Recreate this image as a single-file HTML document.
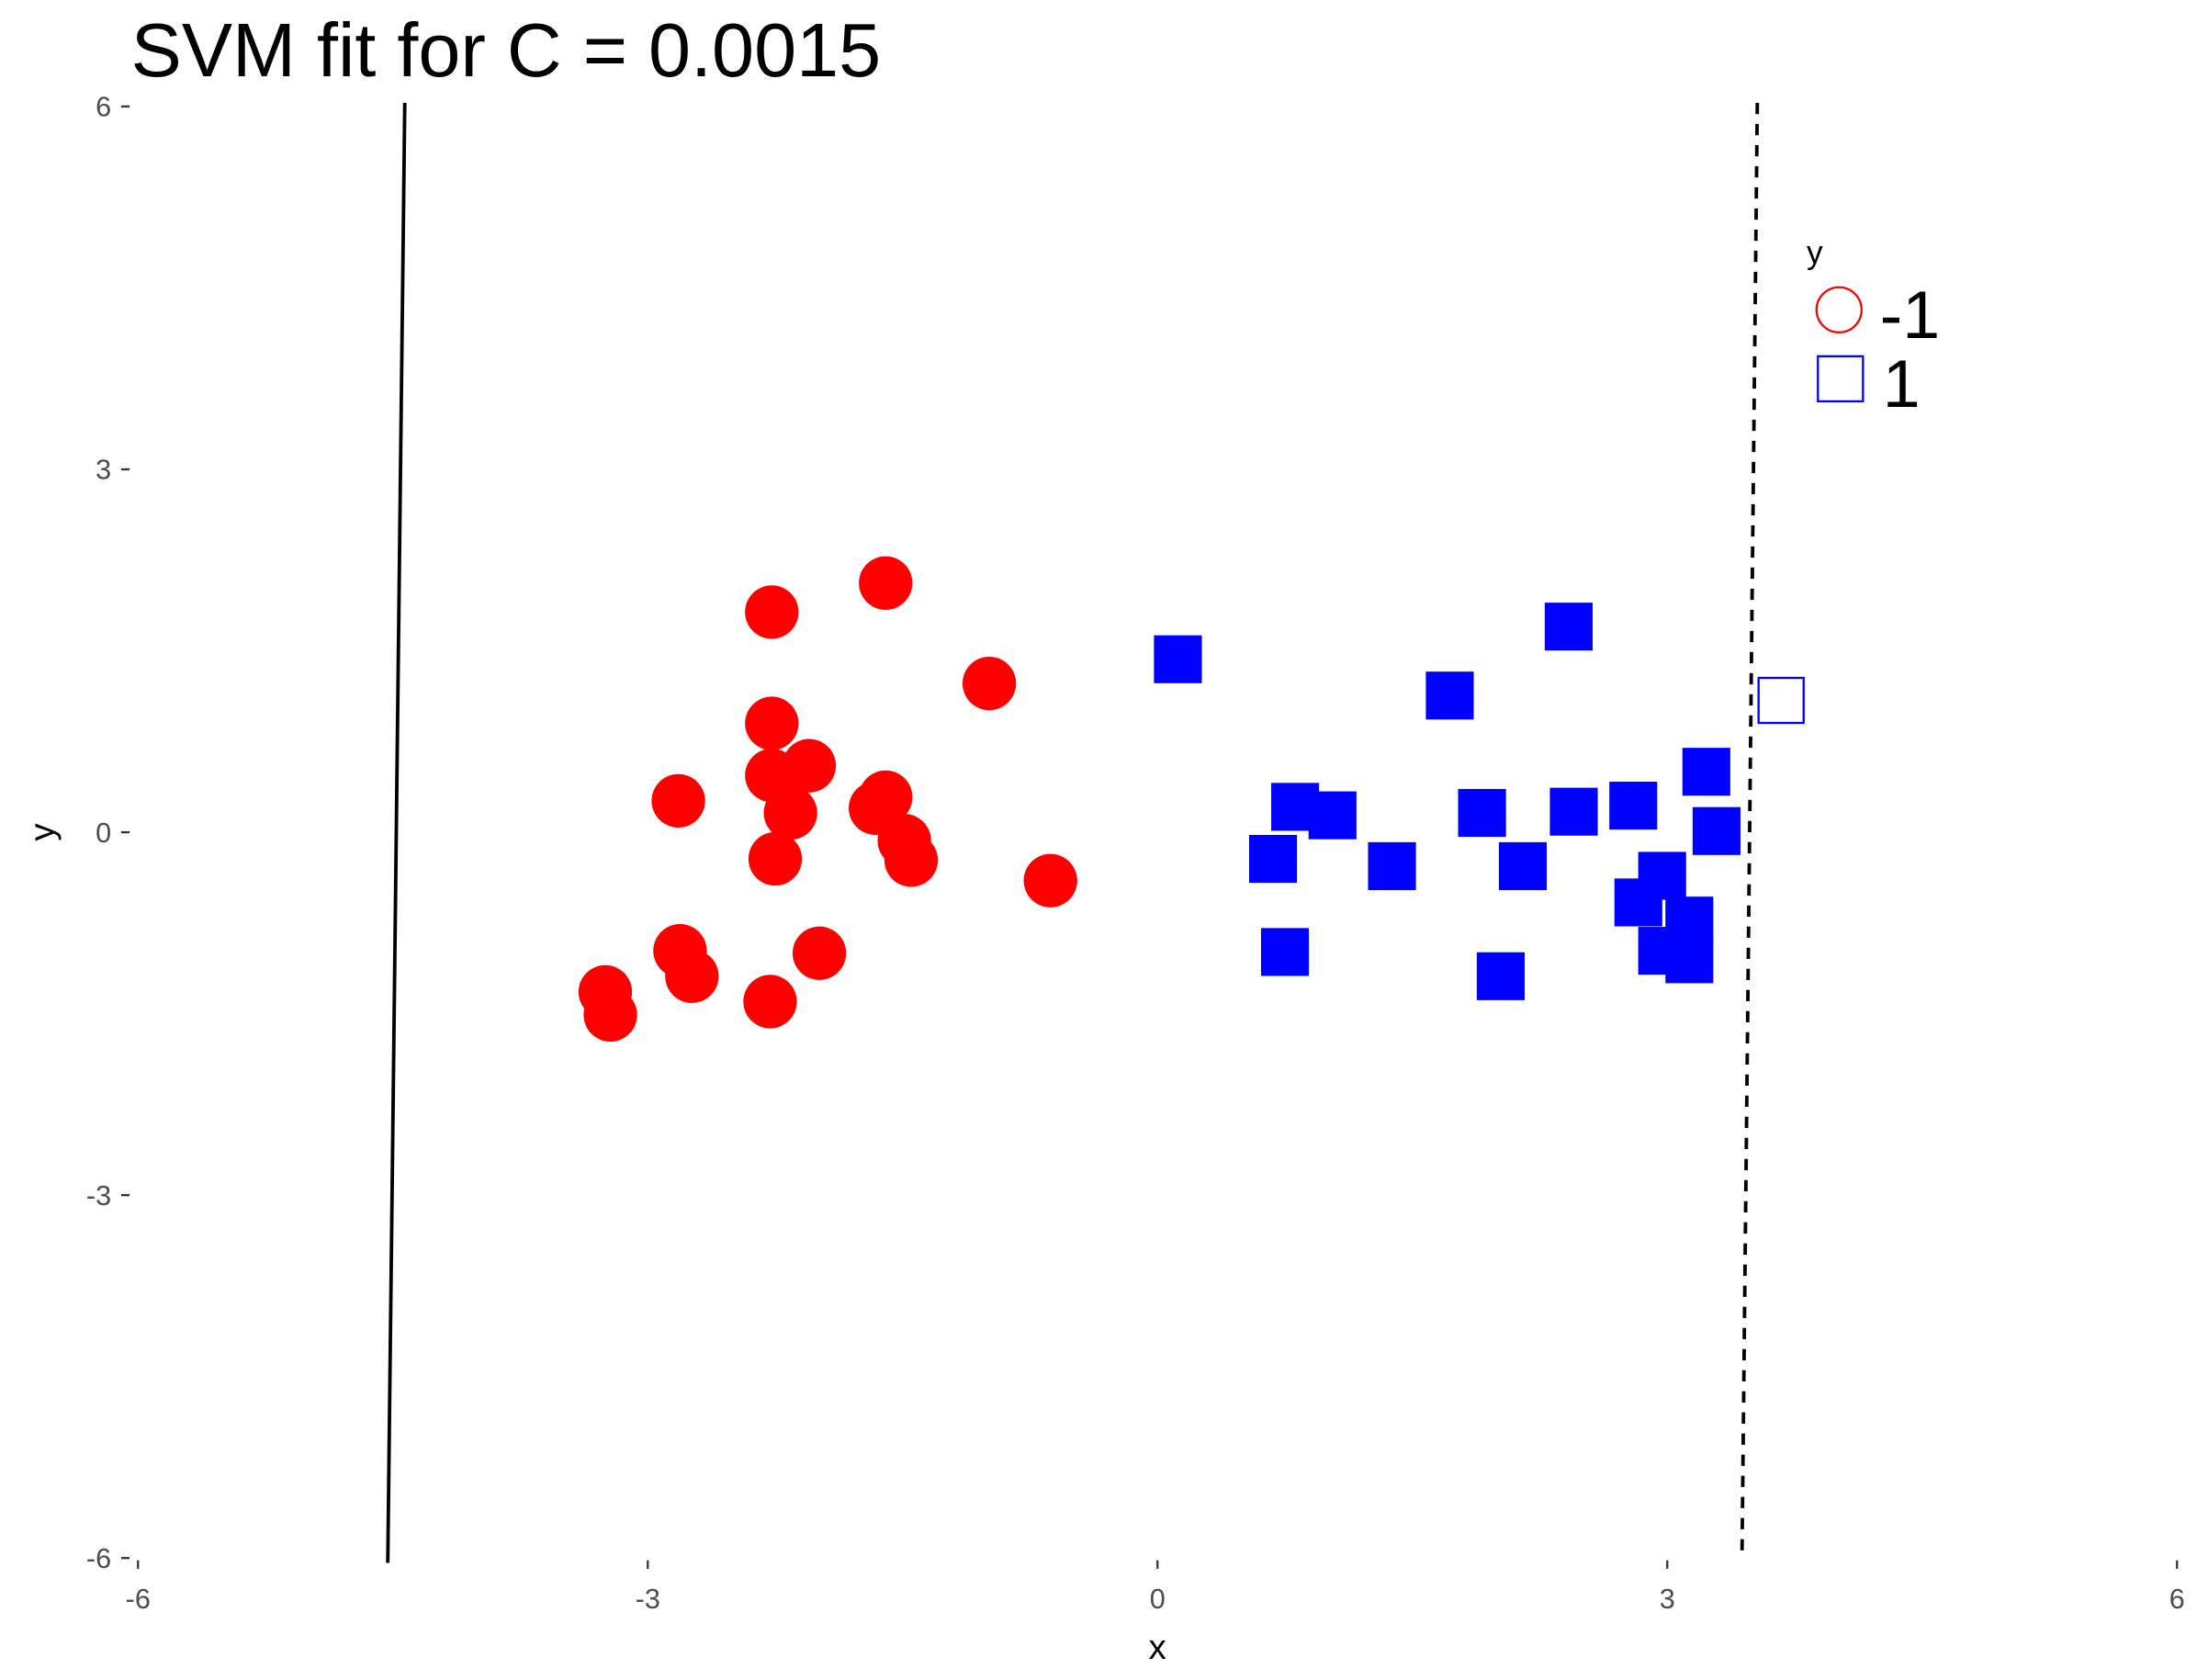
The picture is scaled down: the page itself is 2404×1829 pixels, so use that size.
<!DOCTYPE html>
<html><head><meta charset="utf-8"><style>html,body{margin:0;padding:0;background:#fff}svg{display:block}text{font-family:"Liberation Sans",Arial,sans-serif}</style></head>
<body>
<svg id="chart" width="2404" height="1829" viewBox="0 0 1568 1193" xmlns="http://www.w3.org/2000/svg">
<text x="93" y="54" font-size="54" fill="#000">SVM fit for C = 0.0015</text>
<g id="axes"></g>
<g id="lines"></g>
<g id="points"></g>
<g>
<text x="1283" y="187" font-size="23">y</text>
<circle cx="1306" cy="220" r="16" fill="none" stroke="#f00" stroke-width="1.5"/>
<text x="1335" y="240" font-size="48">-1</text>
<rect x="1291" y="253" width="32" height="32" fill="none" stroke="#00f" stroke-width="1.5"/>
<text x="1337" y="289" font-size="48">1</text>
</g>
</svg>
<script>
const xTicks=[-6,-3,0,3,6];
const yTicks=[6,3,0,-3,-6];
const negX=[-2.27,-1.60,-0.99,-2.27,-2.05,-2.27,-2.82,-2.16,-1.60,-1.66,-1.49,-1.45,-2.25,-0.63,-2.81,-2.74,-1.99,-2.28,-3.25,-3.22];
const negY=[1.82,2.06,1.23,0.90,0.55,0.47,0.26,0.16,0.29,0.20,-0.07,-0.23,-0.22,-0.40,-0.98,-1.19,-1.00,-1.40,-1.32,-1.51];
const posX=[0.12,2.42,1.72,0.81,1.03,0.68,1.38,1.91,2.45,2.80,3.23,3.29,2.15,0.75,2.02,2.97,2.83,3.13,2.97,3.13];
const posY=[1.43,1.70,1.13,0.21,0.14,-0.22,-0.28,0.16,0.17,0.22,0.50,0.01,-0.28,-0.99,-1.19,-0.36,-0.58,-0.73,-0.98,-1.05];
const openX=[3.67];
const openY=[1.09];
const solidLineX=[-4.43,-4.53];
const solidLineY=[6.03,-6.04];
const dashLineX=[3.53,3.44];
const dashLineY=[6.03,-5.96];
const NS="http://www.w3.org/2000/svg";
const sx=v=>822+v*120.67;
const sy=v=>591-v*85.9;
function mk(tag,attrs,parent){const e=document.createElementNS(NS,tag);for(const k in attrs)e.setAttribute(k,attrs[k]);parent.appendChild(e);return e;}
const axes=document.getElementById('axes');
xTicks.forEach(t=>{
  const l=mk('line',{x1:sx(t),x2:sx(t),y1:1108,y2:1114,stroke:'#333','stroke-width':1.5},axes);
  
  
  const tx=mk('text',{x:sx(t),y:1142,'font-size':20,'text-anchor':'middle',fill:'#4d4d4d'},axes);
  
  
  tx.textContent=t;
});
yTicks.forEach(t=>{
  const l=mk('line',{x1:86,x2:92,y1:sy(t),y2:sy(t),stroke:'#333','stroke-width':1.5},axes);
  
  
  const tx=mk('text',{x:79,y:sy(t)+7,'font-size':20,'text-anchor':'end',fill:'#4d4d4d'},axes);
  
  
  tx.textContent=t;
});
const xt=mk('text',{x:822,y:1178,'font-size':25,'text-anchor':'middle'},axes);


xt.textContent='x';
const yt=mk('text',{x:38,y:591,'font-size':25,'text-anchor':'middle',transform:'rotate(-90 38 591)'},axes);


yt.textContent='y';
const lines=document.getElementById('lines');
const sl=mk('line',{x1:sx(solidLineX[0]),y1:sy(solidLineY[0]),x2:sx(solidLineX[1]),y2:sy(solidLineY[1]),stroke:'#000','stroke-width':2.5},lines);


const dl=mk('line',{x1:sx(dashLineX[0]),y1:sy(dashLineY[0]),x2:sx(dashLineX[1]),y2:sy(dashLineY[1]),stroke:'#000','stroke-width':2.5,'stroke-dasharray':'8 7'},lines);


const pts=document.getElementById('points');
negX.forEach((x,i)=>{
  const c=mk('circle',{cx:sx(x),cy:sy(negY[i]),r:19,fill:'#f00'},pts);
  
  
});
posX.forEach((x,i)=>{
  const r=mk('rect',{x:sx(x)-17,y:sy(posY[i])-17,width:34,height:34,fill:'#00f'},pts);
  
  
});
openX.forEach((x,i)=>{
  const r=mk('rect',{x:sx(x)-16,y:sy(openY[i])-16,width:32,height:32,fill:'none',stroke:'#00f','stroke-width':1.5},pts);
  
  
});
</script>
</body></html>
